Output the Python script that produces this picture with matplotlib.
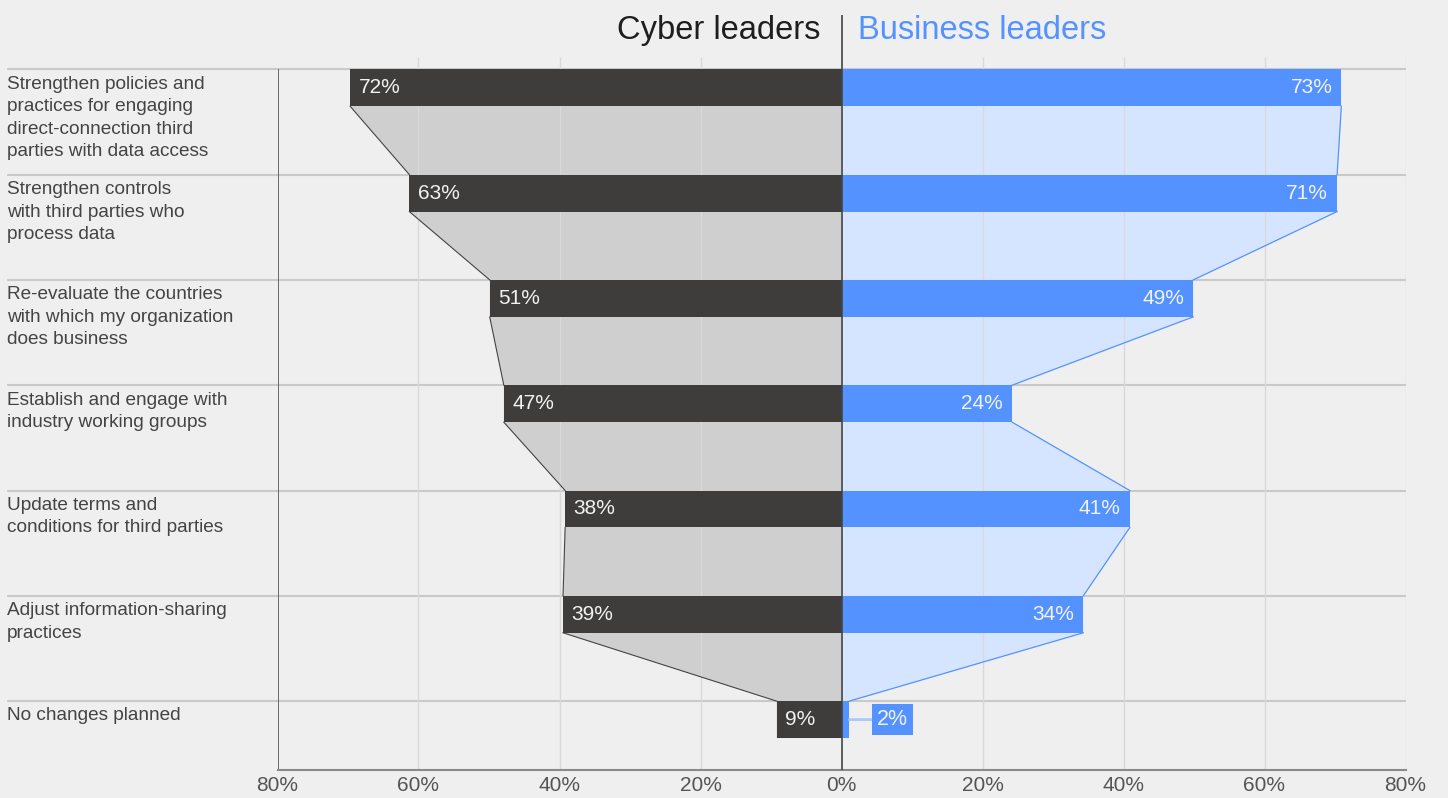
import numpy as np
import matplotlib.pyplot as plt
from matplotlib.transforms import blended_transform_factory

plt.rcParams['font.family'] = ['Liberation Sans', 'DejaVu Sans']

# Data
categories = [
    "Strengthen policies and\npractices for engaging\ndirect-connection third\nparties with data access",
    "Strengthen controls\nwith third parties who\nprocess data",
    "Re-evaluate the countries\nwith which my organization\ndoes business",
    "Establish and engage with\nindustry working groups",
    "Update terms and\nconditions for third parties",
    "Adjust information-sharing\npractices",
    "No changes planned",
]
cyber_labels = [72, 63, 51, 47, 38, 39, 9]
business_labels = [73, 71, 49, 24, 41, 34, 2]
# bar lengths as drawn in the picture
cyber_bars = [69.7, 61.3, 49.9, 47.9, 39.2, 39.5, 9.2]
business_bars = [70.9, 70.3, 49.9, 24.2, 40.9, 34.3, 1.1]
ticks = [-80, -60, -40, -20, 0, 20, 40, 60, 80]
tick_labels = [f"{abs(t)}%" for t in ticks]

# Styles
bg = "#efefef"
dark = "#3e3d3b"
blue = "#5492ff"
grey_fill = "#cfcfcf"
blue_fill = "#d5e5ff"
grid_col = "#d9d9d9"
row_col = "#c9c9c9"
text_col = "#444444"
bar_h = 0.351

fig = plt.figure(figsize=(14.48, 7.98), dpi=100, facecolor=bg)
ax = fig.add_axes([277.5 / 1448, 1 - 770 / 798, 1128 / 1448, 758 / 798])
ax.set_facecolor(bg)
ax.set_xlim(-80, 80)
ax.set_ylim(6.654, -0.544)
for s in ["top", "left", "right"]:
    ax.spines[s].set_visible(False)
ax.spines["bottom"].set_color("#8a8a8a")
ax.spines["bottom"].set_linewidth(1.5)
ax.set_yticks([])
ax.set_xticks(ticks)
ax.set_xticklabels(tick_labels)
ax.tick_params(axis="x", length=0, pad=4, labelsize=15, labelcolor="#555555")

n = len(categories)
rows = np.arange(n)
ymax = ax.get_ylim()[0]

# funnel fills
def funnel(bars, sign):
    xs, ys = [], []
    for i, b in enumerate(bars):
        xs += [sign * b, sign * b]
        ys += [i, i + bar_h]
    xs += [0, 0]
    ys += [n - 1 + bar_h, 0]
    return xs, ys

xs, ys = funnel(cyber_bars, -1)
ax.fill(xs, ys, color=grey_fill, lw=0, zorder=1)
xs, ys = funnel(business_bars, 1)
ax.fill(xs, ys, color=blue_fill, lw=0, zorder=1)

for i in range(n - 1):
    ax.plot([-cyber_bars[i], -cyber_bars[i + 1]], [i + bar_h, i + 1],
            color="#444444", lw=0.8, zorder=2.5)
    ax.plot([business_bars[i], business_bars[i + 1]], [i + bar_h, i + 1],
            color=blue, lw=0.9, zorder=2.5)

# grid lines
ax.vlines([t for t in ticks if t not in (-80, 0)], -0.117, ymax,
          color=grid_col, lw=1, zorder=2)
ax.hlines(rows, -0.24, 1.0, transform=ax.get_yaxis_transform(),
          color=row_col, lw=1.5, zorder=0.5, clip_on=False)
ax.vlines(-80, 0, ymax, color="#555555", lw=1.2, zorder=2)
ax.vlines(0, -0.515, ymax, color="#444444", lw=1.2, zorder=4)

# bars
ax.barh(rows, [-b for b in cyber_bars], height=bar_h, align="edge",
        color=dark, lw=0, zorder=3)
ax.barh(rows, business_bars, height=bar_h, align="edge",
        color=blue, lw=0, zorder=3)

# value labels
for i in range(n):
    yc = i + bar_h / 2
    ax.annotate(f"{cyber_labels[i]}%", xy=(-cyber_bars[i], yc), xytext=(6, 0),
                textcoords="offset points", ha="left", va="center",
                fontsize=15, color="#f2f2f2", zorder=5)
    if business_bars[i] > 10:
        ax.annotate(f"{business_labels[i]}%", xy=(business_bars[i], yc),
                    xytext=(-6.5, 0), textcoords="offset points", ha="right",
                    va="center", fontsize=15, color="#f2f2f2", zorder=5)
    else:
        ax.annotate(f"{business_labels[i]}%", xy=(business_bars[i], yc),
                    xytext=(20, 0), textcoords="offset points", ha="left",
                    va="center", fontsize=15.5, color="#f2f2f2", zorder=5,
                    bbox=dict(boxstyle="square,pad=0.24", fc=blue, ec="none"),
                    arrowprops=dict(arrowstyle="-", color="#a9c8ff", lw=2,
                                    shrinkA=0, shrinkB=0))

# category labels
trans = blended_transform_factory(fig.transFigure, ax.transData)
for i, c in enumerate(categories):
    ax.text(7 / 1448, i + 0.06, c, transform=trans, ha="left", va="top",
            fontsize=13.7, color=text_col, linespacing=1.43)

# headers
ax.text(-2.95, -0.292, "Cyber leaders", ha="right", va="baseline",
        fontsize=23.5, color="#1e1e1e")
ax.text(2.33, -0.292, "Business leaders", ha="left", va="baseline",
        fontsize=23.5, color=blue)

fig.savefig("out.png", dpi=100, facecolor=bg)
